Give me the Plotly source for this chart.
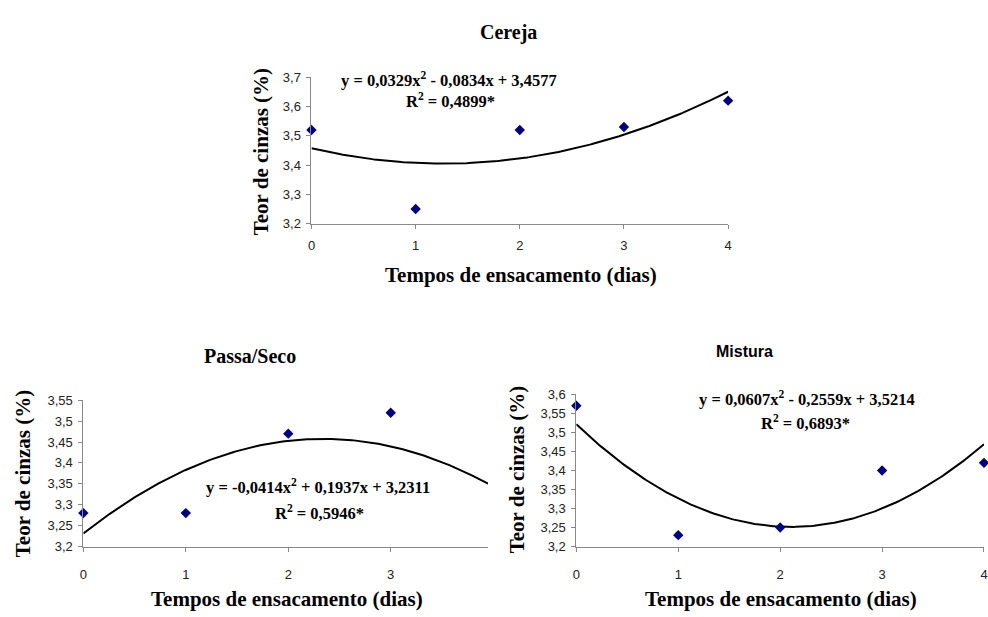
import numpy as np
import plotly.graph_objects as go

W, H = 988, 617

# ---- data ----
days = [0, 1, 2, 3, 4]
cereja = [3.52, 3.25, 3.52, 3.53, 3.62]
passa_days = [0, 1, 2, 3]
passa = [3.28, 3.28, 3.47, 3.52]
mistura = [3.57, 3.23, 3.25, 3.40, 3.42]

coef_cereja = [0.0329, -0.0834, 3.4577]
coef_passa = [-0.0414, 0.1937, 3.2311]
coef_mistura = [0.0607, -0.2559, 3.5214]

yt_cereja = [3.2, 3.3, 3.4, 3.5, 3.6, 3.7]
yt_cereja_lbl = ["3,2", "3,3", "3,4", "3,5", "3,6", "3,7"]
yt_passa = [3.2, 3.25, 3.3, 3.35, 3.4, 3.45, 3.5, 3.55]
yt_passa_lbl = ["3,2", "3,25", "3,3", "3,35", "3,4", "3,45", "3,5", "3,55"]
yt_mist = [3.2, 3.25, 3.3, 3.35, 3.4, 3.45, 3.5, 3.55, 3.6]
yt_mist_lbl = ["3,2", "3,25", "3,3", "3,35", "3,4", "3,45", "3,5", "3,55", "3,6"]

titles = ["Cereja", "Passa/Seco", "Mistura"]
xtitle = "Tempos de ensacamento (dias)"
ytitle = "Teor de cinzas (%)"
eqs = ["y = 0,0329x<sup>2</sup> - 0,0834x + 3,4577",
       "y = -0,0414x<sup>2</sup> + 0,1937x + 3,2311",
       "y = 0,0607x<sup>2</sup> - 0,2559x + 3,5214"]
r2s = ["R<sup>2</sup> = 0,4899*", "R<sup>2</sup> = 0,5946*", "R<sup>2</sup> = 0,6893*"]

# ---- layout helpers (pixel boxes -> paper) ----
def px(x):
    return x / W

def py(y):
    return 1 - y / H

SERIF = "Liberation Serif"
SANS = "Liberation Sans"
MARK = "#000080"

fig = go.Figure()

panels = [
    dict(xs=days, ys=cereja, coef=coef_cereja, xr=[0, 4], xt=[0, 1, 2, 3, 4],
         yr=[3.2, 3.7], yt=yt_cereja, ytl=yt_cereja_lbl, box=(310, 730, 72, 222), so=6),
    dict(xs=passa_days, ys=passa, coef=coef_passa, xr=[0, 3.95], xt=[0, 1, 2, 3],
         yr=[3.2, 3.55], yt=yt_passa, ytl=yt_passa_lbl, box=(80, 488, 403, 553), so=12),
    dict(xs=days, ys=mistura, coef=coef_mistura, xr=[0, 4], xt=[0, 1, 2, 3, 4],
         yr=[3.2, 3.6], yt=yt_mist, ytl=yt_mist_lbl, box=(577, 988, 397, 553), so=12),
]

for i, p in enumerate(panels):
    n = "" if i == 0 else str(i + 1)
    xa, ya = "x" + n, "y" + n
    xx = np.linspace(p["xr"][0], p["xr"][1], 200)
    fig.add_trace(go.Scatter(x=xx, y=np.polyval(p["coef"], xx), mode="lines",
                             line=dict(color="black", width=2), xaxis=xa, yaxis=ya,
                             showlegend=False, hoverinfo="skip"))
    fig.add_trace(go.Scatter(x=p["xs"], y=p["ys"], mode="markers",
                             marker=dict(symbol="diamond", size=8, color=MARK),
                             xaxis=xa, yaxis=ya, showlegend=False, cliponaxis=False))
    x0, x1, y0, y1 = p["box"]
    axcommon = dict(showgrid=False, zeroline=False, showline=True, linecolor="#888",
                    linewidth=1, ticks="outside", ticklen=4, tickcolor="#888",
                    tickfont=dict(family=SANS, size=13, color="#222"))
    fig.update_layout(**{
        "xaxis" + n: dict(domain=[px(x0), px(x1)], range=p["xr"], tickvals=p["xt"],
                          anchor=ya, ticklabelstandoff=p["so"], **axcommon),
        "yaxis" + n: dict(domain=[py(y1), py(y0)], range=p["yr"], tickvals=p["yt"],
                          ticktext=p["ytl"], anchor=xa, ticklabelstandoff=3, **axcommon),
    })

ann = []
def add_text(text, x, y, size, family=SERIF, angle=0, bold=True):
    ann.append(dict(text=("<b>%s</b>" % text) if bold else text, x=px(x), y=py(y),
                    xref="paper", yref="paper", showarrow=False, textangle=angle,
                    font=dict(family=family, size=size, color="black"),
                    xanchor="center", yanchor="middle"))

# titles
add_text(titles[0], 509, 26, 20)
add_text(titles[1], 248, 358, 20)
add_text(titles[2], 747, 353, 16, family=SANS)
# x titles
add_text(xtitle, 521, 275, 21)
add_text(xtitle, 285, 607, 21)
add_text(xtitle, 783, 607, 21)
# y titles
add_text(ytitle, 260, 148, 21, angle=-90)
add_text(ytitle, 20, 478, 21, angle=-90)
add_text(ytitle, 518, 474, 21, angle=-90)
# equations
add_text(eqs[0], 449, 74, 16.5)
add_text(r2s[0], 450, 96, 16.5)
add_text(eqs[1], 317, 491, 16.5)
add_text(r2s[1], 318, 518, 16.5)
add_text(eqs[2], 810, 401, 16.5)
add_text(r2s[2], 808, 426, 16.5)

fig.update_layout(width=W, height=H, margin=dict(l=0, r=0, t=0, b=0),
                  paper_bgcolor="white", plot_bgcolor="white", annotations=ann)

fig.write_html("out.html")
